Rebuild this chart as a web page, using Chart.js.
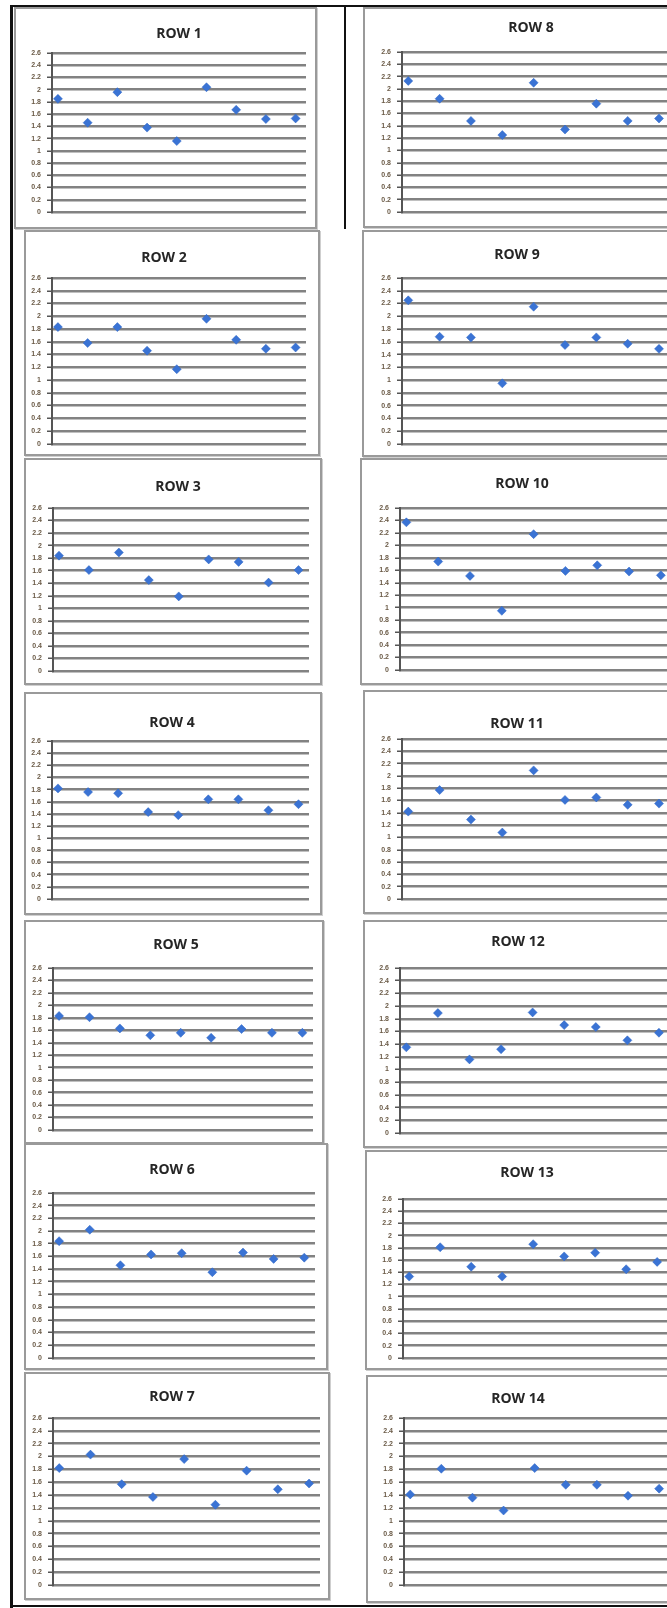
<!DOCTYPE html>
<html>
<head>
<meta charset="utf-8">
<script src="https://cdn.jsdelivr.net/npm/chart.js@4.4.0/dist/chart.umd.min.js"></script>
<style>
html,body{margin:0;padding:0;background:#fff;}
body{position:relative;width:667px;height:1608px;overflow:hidden;}
.frame{position:absolute;box-sizing:border-box;border:2px solid #9a9a9a;box-shadow:1px 1px 0 #cfcfcf;background:#fff;}
.ttl{position:absolute;transform:translate(-50%,-50%);font:bold 14px 'Open Sans',sans-serif;color:#262626;white-space:nowrap;}
.cv{position:absolute;}
.bar{position:absolute;background:#111;}
</style>
</head>
<body>
<div class="bar" style="left:10px;top:5px;width:657px;height:2px"></div>
<div class="bar" style="left:10px;top:5px;width:3px;height:1603px"></div>
<div class="bar" style="left:10px;top:1605px;width:657px;height:2px"></div>
<div class="bar" style="left:344px;top:5px;width:1.5px;height:224px"></div>
<script>
// —————— DATA ——————
const xPoints = [1, 2, 3, 4, 5, 6, 7, 8, 9];
const yTicks  = [0, 0.2, 0.4, 0.6, 0.8, 1, 1.2, 1.4, 1.6, 1.8, 2, 2.2, 2.4, 2.6];
const titles  = ['ROW 1','ROW 2','ROW 3','ROW 4','ROW 5','ROW 6','ROW 7',
                 'ROW 8','ROW 9','ROW 10','ROW 11','ROW 12','ROW 13','ROW 14'];

const row1  = [1.85, 1.46, 1.96, 1.38, 1.16, 2.04, 1.67, 1.52, 1.53];
const row2  = [1.83, 1.58, 1.83, 1.46, 1.17, 1.96, 1.63, 1.49, 1.51];
const row3  = [1.84, 1.61, 1.89, 1.45, 1.19, 1.78, 1.74, 1.41, 1.61];
const row4  = [1.82, 1.76, 1.74, 1.43, 1.38, 1.64, 1.64, 1.46, 1.56];
const row5  = [1.83, 1.81, 1.63, 1.52, 1.56, 1.48, 1.62, 1.56, 1.56];
const row6  = [1.84, 2.02, 1.46, 1.63, 1.65, 1.35, 1.66, 1.56, 1.58];
const row7  = [1.82, 2.03, 1.57, 1.37, 1.96, 1.25, 1.78, 1.49, 1.58];
const row8  = [2.13, 1.84, 1.48, 1.25, 2.10, 1.34, 1.76, 1.48, 1.52];
const row9  = [2.25, 1.68, 1.67, 0.95, 2.15, 1.55, 1.67, 1.57, 1.49];
const row10 = [2.37, 1.74, 1.51, 0.95, 2.18, 1.59, 1.68, 1.58, 1.52];
const row11 = [1.42, 1.77, 1.29, 1.08, 2.09, 1.61, 1.65, 1.53, 1.55];
const row12 = [1.35, 1.89, 1.16, 1.32, 1.90, 1.70, 1.67, 1.46, 1.58];
const row13 = [1.33, 1.81, 1.49, 1.33, 1.86, 1.66, 1.72, 1.45, 1.57];
const row14 = [1.41, 1.81, 1.36, 1.16, 1.82, 1.56, 1.56, 1.39, 1.50];

const rows = [row1,row2,row3,row4,row5,row6,row7,row8,row9,row10,row11,row12,row13,row14];

// —————— LAYOUT (frame box, plot box, title centre) ——————
// f:[x,y,w,h]  p:[axisX, rightX, topY, bottomY]  t:[cx,cy]
const panels = [
  { f:[14,7,303,222],   p:[52,306,53,212],    t:[179,32] },
  { f:[24,230,296,226], p:[52,306,278,444],   t:[164,256] },
  { f:[24,458,298,227], p:[53,309,508,671],   t:[178,485] },
  { f:[24,692,298,223], p:[52,309,741,899],   t:[172,721] },
  { f:[24,920,300,224], p:[53,313,968,1130],  t:[176,943] },
  { f:[24,1143,304,227],p:[53,315,1193,1358], t:[172,1168] },
  { f:[24,1372,306,228],p:[53,320,1418,1585], t:[172,1395] },
  { f:[363,7,340,221],  p:[402,670,52,212],   t:[531,26] },
  { f:[362,230,340,227],p:[402,670,278,444],  t:[517,253] },
  { f:[360,458,340,227],p:[400,672,508,670],  t:[522,482] },
  { f:[363,690,340,224],p:[402,670,739,899],  t:[517,722] },
  { f:[363,920,340,228],p:[400,670,968,1133], t:[518,940] },
  { f:[365,1150,340,220],p:[403,668,1199,1359],t:[527,1171] },
  { f:[366,1375,340,228],p:[404,670,1418,1585],t:[518,1397] }
];

function el(tag, cls, css){
  const e = document.createElement(tag);
  e.className = cls;
  Object.assign(e.style, css);
  document.body.appendChild(e);
  return e;
}

// —————— CHARTS ——————
panels.forEach((pn, i) => {
  const [fx, fy, fw, fh] = pn.f;
  const [ax, rx, ty, by] = pn.p;

  el('div', 'frame', { left: fx+'px', top: fy+'px', width: fw+'px', height: fh+'px' });

  const cx = fx + 2, cy = fy + 2, cw = fw - 4, ch = fh - 4;
  const cv = el('canvas', 'cv', { left: cx+'px', top: cy+'px', width: cw+'px', height: ch+'px' });
  cv.width = cw; cv.height = ch;

  const ttl = el('div', 'ttl', { left: pn.t[0]+'px', top: pn.t[1]+'px' });
  ttl.textContent = titles[i];

  new Chart(cv, {
    type: 'scatter',
    data: {
      datasets: [{
        data: xPoints.map((x, k) => ({ x: x, y: rows[i][k] })),
        pointStyle: 'rectRot',
        pointRadius: 4.5,
        backgroundColor: '#3a73d4',
        borderColor: '#2f66c6',
        borderWidth: 0.5
      }]
    },
    options: {
      responsive: false,
      animation: false,
      layout: { padding: { left: 0, top: ty - cy, right: cx + cw - rx, bottom: cy + ch - by } },
      plugins: { legend: { display: false }, tooltip: { enabled: false }, title: { display: false } },
      scales: {
        x: { type: 'linear', display: false, min: 0.8, max: 9.35 },
        y: {
          min: yTicks[0],
          max: yTicks[yTicks.length - 1],
          afterFit: s => { s.width = ax - cx; },
          afterBuildTicks: s => { s.ticks = yTicks.map(v => ({ value: v })); },
          ticks: {
            autoSkip: false,
            padding: 6,
            color: '#6a5a46',
            font: { family: 'Liberation Sans', size: 7, weight: 'bold' },
            callback: v => String(Math.round(v * 10) / 10)
          },
          grid: { color: '#828282', lineWidth: 2.5, tickLength: 5, tickColor: '#555', tickWidth: 1.5 },
          border: { display: true, color: '#555', width: 2 }
        }
      }
    }
  });
});
</script>
</body>
</html>
